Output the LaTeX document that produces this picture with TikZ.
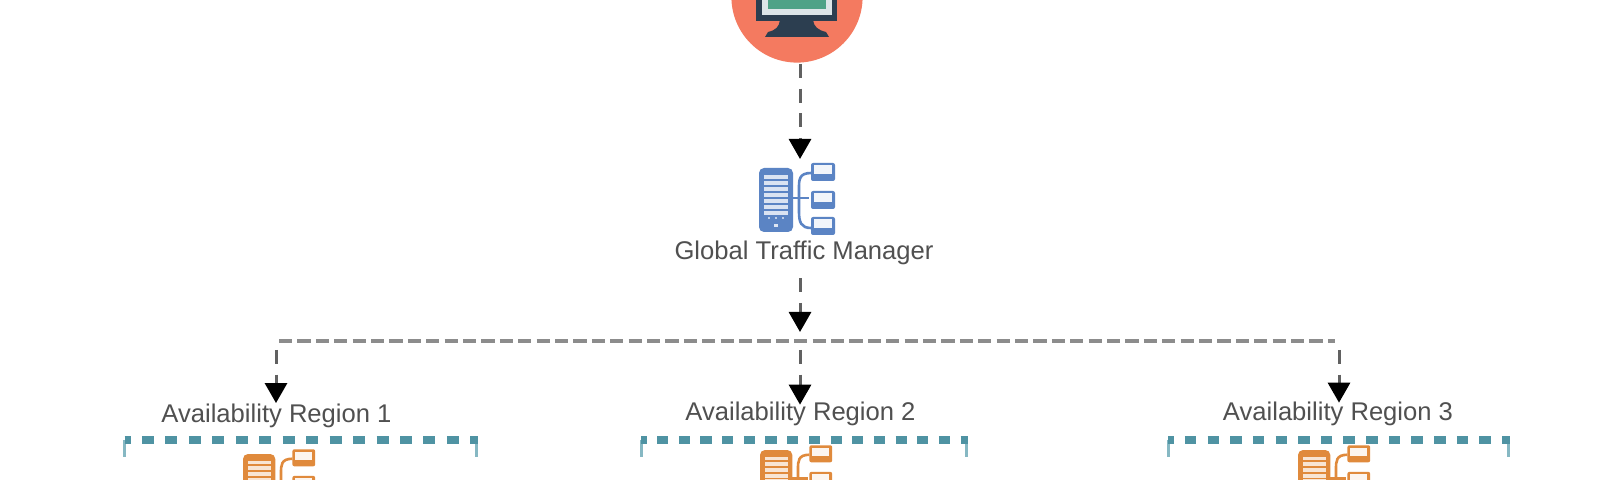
\documentclass[tikz,border=0pt]{standalone}
\usepackage{fontspec}
\setmainfont{Liberation Sans}
\usetikzlibrary{arrows.meta}
\definecolor{usercol}{HTML}{F47A60}
\definecolor{navycol}{HTML}{2C3E50}
\definecolor{screencol}{HTML}{4FA287}
\definecolor{framecol}{HTML}{DDE5E8}
\definecolor{bluecol}{HTML}{5B84C4}
\definecolor{orangecol}{HTML}{E08A3C}
\definecolor{tealcol}{HTML}{4F93A3}
\definecolor{ticktealcol}{HTML}{86B8C3}
\definecolor{txtcol}{HTML}{505050}
\tikzset{
  x=0.5pt,y=-0.5pt,
  lbl/.style={font=\fontsize{12.8pt}{14pt}\selectfont,text=txtcol,inner sep=0pt,anchor=center},
  flowv/.style={draw=black!62,line width=1.5pt,dash pattern=on 7pt off 5.3pt,
    -{Triangle[length=10pt,width=11pt,color=black]}},
  bus/.style={draw=black!45,line width=1.8pt,dash pattern=on 6.6pt off 2.6pt},
  regiondash/.style={draw=tealcol,line width=3.7pt},
  regiontick/.style={draw=ticktealcol,line width=1.5pt},
  pics/servericon/.style={code={
    \fill[#1,rounded corners=2.5pt] (0,0) rectangle (34,64);
    \foreach \yy in {7,13,19,25,31,37,43}{\fill[white,opacity=.78] (5,\yy) rectangle (29,\yy+4);}
    \foreach \xx in {9,16,23}{\fill[white,opacity=.6] (\xx,49) rectangle (\xx+2.4,51.4);}
    \fill[white,opacity=.8] (15,56) rectangle (19,59);
    \draw[#1,line width=1.3pt] (34,30) -- (50,30);
    \draw[#1,line width=1.3pt] (52,5) .. controls (40,5) and (40,12) .. (40,20) -- (40,44) .. controls (40,54) and (42,60) .. (52,60);
    \foreach \yy in {-5,23,49}{
      \fill[#1,rounded corners=1pt] (52,\yy) rectangle (76,\yy+18);
      \fill[white,opacity=.92] (55,\yy+2.5) rectangle (73,\yy+11);
    }
  }}
}
\begin{document}
\begin{tikzpicture}
\path[use as bounding box,clip] (0,0) rectangle (1600,480);
\fill[white] (0,0) rectangle (1600,480);

% user disc with monitor
\node[circle,fill=usercol,minimum size=65.6pt,inner sep=0pt] (user) at (797,-3) {};
\fill[navycol] (756,-10) rectangle (837,21);
\fill[framecol] (762,-10) rectangle (832,15);
\fill[screencol] (768,-10) rectangle (826,9);
\fill[navycol] (780,20) -- (813,20) .. controls (814,27) and (818,30) .. (826,32)
  -- (829,37) -- (765,37) -- (768,32) .. controls (776,30) and (779,27) .. (780,20) -- cycle;

% global traffic manager
\pic at (759,168) {servericon=bluecol};
\node[lbl] (gtm) at (804,253) {Global Traffic Manager};
\coordinate (gtmtop) at (800,159);
\coordinate (hub) at (800,341);
\coordinate (busleft) at (276,341);
\coordinate (busright) at (1339,341);

% regions
\node[lbl] (r1) at (276.5,416) {Availability Region 1};
\node[lbl] (r2) at (800.5,414) {Availability Region 2};
\node[lbl] (r3) at (1338,414) {Availability Region 3};

% connectors
\draw[flowv] (user.south -| gtmtop) ++(0,1) -- (gtmtop);
\draw[flowv] (gtm.south -| hub) ++(0,13) -- ([yshift=4.5pt]hub);
\draw[bus] (busleft) ++(3,0) -- ([xshift=-2pt]busright);
\draw[flowv] (busleft) ++(0,9) -- ([yshift=0.3pt]r1.north -| busleft);
\draw[flowv] (hub) ++(0,9) -- ([yshift=-1.5pt]r2.north -| hub);
\draw[flowv] (busright) ++(0,9) -- ([yshift=-0.5pt]r3.north -| busright);

% region brackets
\draw[regiontick] (124.5,440) -- (124.5,457);
\draw[regiontick] (476,440) -- (476,457);
\draw[regiondash,dash pattern=on 6pt off 5.73pt,dash phase=3pt] (124.5,440) -- (478,440);
\draw[regiontick] (641,440) -- (641,457);
\draw[regiontick] (966,440) -- (966,457);
\draw[regiondash,dash pattern=on 5.6pt off 5.24pt,dash phase=2.8pt] (641,440) -- (968,440);
\draw[regiontick] (1168,440) -- (1168,457);
\draw[regiontick] (1508,440) -- (1508,457);
\draw[regiondash,dash pattern=on 5.8pt off 5.53pt,dash phase=2.9pt] (1168,440) -- (1510,440);

% orange server icons
\pic[scale=.95] at (243,454) {servericon=orangecol};
\pic[scale=.95] at (760,450) {servericon=orangecol};
\pic[scale=.95] at (1298,450) {servericon=orangecol};
\end{tikzpicture}
\end{document}
